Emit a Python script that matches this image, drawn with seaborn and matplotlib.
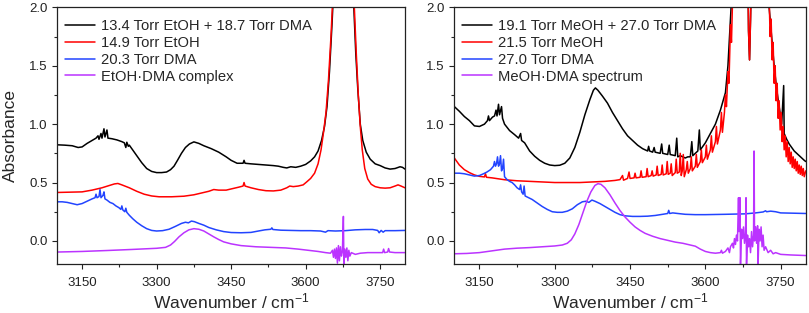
import numpy as np
import matplotlib
matplotlib.use("Agg")
import matplotlib.pyplot as plt
import seaborn as sns

# ---- left panel: EtOH / DMA ----
left_labels = ['13.4 Torr EtOH + 18.7 Torr DMA', '14.9 Torr EtOH', '20.3 Torr DMA', 'EtOH\u00b7DMA complex']

etoh_mix_wn = [3100, 3115, 3130, 3142, 3150, 3160, 3170, 3178, 3182, 3184, 3188, 3190, 3194, 3196, 3200, 3202,
               3210, 3220, 3230, 3235, 3238, 3240, 3243, 3245, 3250, 3260, 3270, 3280, 3290, 3300, 3310, 3320,
               3328, 3335, 3342, 3350, 3358, 3366, 3375, 3385, 3395, 3410, 3425, 3440, 3450, 3462, 3474, 3476,
               3478, 3490, 3505, 3520, 3535, 3545, 3555, 3562, 3570, 3580, 3590, 3600, 3610, 3618, 3625, 3632,
               3638, 3643, 3648, 3653, 3658, 3676, 3692, 3697, 3701, 3705, 3710, 3715, 3722, 3730, 3740, 3750,
               3760, 3770, 3780, 3790, 3795, 3800]
etoh_mix_abs = [.823, .82, .815, .80, .805, .835, .86, .88, .90, .87, .92, .88, .96, .89, .95, .88,
                .875, .865, .85, .84, .80, .845, .81, .82, .79, .73, .67, .62, .595, .585, .585, .59,
                .61, .64, .69, .75, .80, .83, .848, .835, .815, .79, .76, .72, .69, .665, .665, .69,
                .665, .66, .655, .65, .645, .64, .63, .625, .635, .63, .64, .655, .685, .72, .77, .86,
                .98, 1.15, 1.45, 1.85, 2.3, 3.0, 2.4, 2.0, 1.6, 1.3, 1.0, .86, .76, .70, .66, .645,
                .625, .615, .62, .635, .63, .615]

etoh_wn = [3100, 3130, 3150, 3170, 3190, 3205, 3215, 3222, 3230, 3245, 3260, 3275, 3290, 3305, 3330, 3355,
           3375, 3390, 3405, 3415, 3425, 3440, 3455, 3465, 3474, 3476, 3478, 3490, 3505, 3520, 3535, 3550,
           3562, 3568, 3575, 3585, 3595, 3602, 3610, 3618, 3625, 3631, 3636, 3641, 3646, 3651, 3656, 3676,
           3694, 3698, 3702, 3706, 3710, 3714, 3719, 3725, 3732, 3740, 3750, 3760, 3770, 3780, 3786, 3792, 3800]
etoh_abs = [.415, .418, .42, .435, .455, .475, .488, .492, .48, .455, .425, .40, .385, .378, .378, .383,
            .395, .41, .425, .44, .435, .435, .45, .46, .47, .50, .47, .455, .44, .43, .428, .435,
            .455, .47, .465, .47, .48, .505, .535, .58, .66, .78, .93, 1.1, 1.38, 1.75, 2.2, 3.0,
            2.3, 2.0, 1.6, 1.25, .98, .78, .62, .53, .485, .465, .455, .452, .455, .47, .48, .47, .455]

dma_l_wn = [3100, 3110, 3120, 3130, 3140, 3150, 3160, 3170, 3176, 3178, 3180, 3184, 3186, 3188, 3192, 3194,
            3196, 3200, 3206, 3212, 3218, 3224, 3228, 3230, 3232, 3236, 3238, 3240, 3245, 3252, 3260, 3270,
            3280, 3290, 3300, 3312, 3325, 3338, 3350, 3358, 3364, 3370, 3376, 3385, 3395, 3405, 3420, 3435,
            3450, 3470, 3490, 3505, 3518, 3530, 3532, 3534, 3550, 3570, 3590, 3610, 3630, 3640, 3645, 3660,
            3680, 3700, 3720, 3735, 3745, 3748, 3752, 3756, 3760, 3780, 3800]
dma_l_abs = [.335, .335, .33, .32, .31, .32, .34, .36, .37, .40, .37, .38, .44, .37, .39, .42,
             .36, .35, .33, .32, .30, .285, .27, .30, .265, .25, .28, .245, .22, .19, .16, .13,
             .105, .09, .085, .088, .10, .125, .15, .16, .155, .17, .165, .15, .135, .115, .095, .08,
             .072, .07, .073, .085, .095, .10, .112, .098, .092, .09, .088, .088, .085, .075, .088, .085,
             .088, .095, .098, .098, .09, .07, .09, .075, .088, .088, .09]

cx_l_wn = [3100, 3150, 3200, 3250, 3300, 3318, 3328, 3336, 3345, 3355, 3365, 3375, 3385, 3395, 3405, 3415,
           3425, 3435, 3450, 3470, 3500, 3530, 3560, 3585, 3605, 3625, 3640, 3650, 3654, 3656, 3658, 3660,
           3662, 3664, 3666, 3668, 3670, 3672, 3674, 3676, 3677, 3679, 3681, 3683, 3685, 3687, 3689, 3692,
           3700, 3710, 3725, 3740, 3755, 3757, 3759, 3765, 3767, 3769, 3780, 3800]
cx_l_abs = [-.095, -.09, -.082, -.073, -.063, -.055, -.035, -.005, .035, .07, .095, .105, .10, .085, .06, .035,
            .012, -.008, -.025, -.04, -.05, -.055, -.06, -.07, -.08, -.09, -.10, -.105, -.08, -.14, -.07, -.15,
            -.06, -.19, -.04, -.17, -.05, -.13, -.09, .21, -.2, -.07, -.14, -.06, -.17, -.08, -.13, -.10,
            -.115, -.105, -.10, -.10, -.10, -.07, -.10, -.095, -.065, -.095, -.10, -.10]

# ---- right panel: MeOH / DMA ----
right_labels = ['19.1 Torr MeOH + 27.0 Torr DMA', '21.5 Torr MeOH', '27.0 Torr DMA', 'MeOH\u00b7DMA spectrum']

meoh_mix_wn = [3100, 3110, 3120, 3130, 3140, 3150, 3160, 3166, 3168, 3170, 3176, 3180, 3183, 3185, 3188, 3190,
               3194, 3196, 3200, 3210, 3220, 3228, 3232, 3234, 3240, 3250, 3260, 3270, 3280, 3290, 3300, 3310,
               3320, 3330, 3340, 3350, 3360, 3370, 3377, 3381, 3386, 3395, 3405, 3415, 3425, 3435, 3445, 3455,
               3465, 3475, 3485, 3487, 3489, 3495, 3498, 3500, 3510, 3513, 3515, 3525, 3528, 3530, 3540, 3543,
               3545, 3550, 3555, 3560, 3565, 3570, 3573, 3575, 3580, 3585, 3588, 3590, 3600, 3610, 3620, 3630,
               3640, 3645, 3650, 3655, 3660, 3684, 3686, 3688, 3690, 3693, 3722, 3727, 3732, 3737, 3742, 3747,
               3752, 3756, 3757, 3762, 3767, 3772, 3777, 3782, 3787, 3792, 3797, 3800]
meoh_mix_abs = [1.15, 1.11, 1.065, 1.03, .985, .98, 1.0, 1.03, 1.07, 1.03, 1.06, 1.07, 1.12, 1.07, 1.17, 1.08,
                1.15, 1.05, 1.0, .945, .91, .88, .92, .86, .84, .77, .725, .69, .665, .65, .645, .648,
                .665, .71, .80, .93, 1.08, 1.21, 1.29, 1.31, 1.29, 1.24, 1.18, 1.10, 1.03, .96, .90, .86,
                .82, .79, .77, .81, .77, .76, .80, .76, .75, .83, .75, .74, .82, .74, .73, .88,
                .72, .73, .72, .71, .72, .72, .85, .73, .75, .77, .95, .78, .84, .92, 1.0, 1.12,
                1.27, 1.5, 1.9, 2.3, 2.6, 2.6, 1.8, 1.55, 1.9, 2.6, 2.6, 2.0, 1.75, 1.5, 1.3, 1.15,
                1.0, 1.33, .92, .87, .83, .80, .77, .75, .73, .71, .69, .68]

meoh_wn = [3100, 3105, 3110, 3120, 3130, 3140, 3150, 3160, 3162, 3164, 3175, 3190, 3200, 3225, 3250, 3275,
           3300, 3325, 3350, 3375, 3400, 3420, 3430, 3435, 3437, 3445, 3448, 3450, 3458, 3460, 3462, 3470,
           3472, 3474, 3482, 3484, 3486, 3492, 3494, 3496, 3502, 3504, 3506, 3512, 3514, 3516, 3522, 3524,
           3526, 3530, 3532, 3534, 3540, 3542, 3544, 3548, 3550, 3552, 3554, 3556, 3558, 3562, 3564, 3566,
           3570, 3572, 3574, 3580, 3582, 3584, 3590, 3592, 3594, 3600, 3602, 3604, 3610, 3612, 3614, 3620,
           3622, 3624, 3630, 3632, 3634, 3638, 3640, 3642, 3645, 3647, 3650, 3652, 3655, 3660, 3684, 3686,
           3688, 3690, 3693, 3722, 3725, 3727, 3729, 3731, 3733, 3735, 3737, 3739, 3741, 3743, 3745, 3747,
           3749, 3751, 3753, 3755, 3757, 3759, 3761, 3763, 3765, 3767, 3769, 3771, 3773, 3775, 3777, 3779,
           3781, 3783, 3785, 3787, 3789, 3791, 3793, 3795, 3797, 3800]
meoh_abs = [.71, .68, .65, .61, .585, .565, .553, .548, .575, .545, .54, .53, .524, .515, .51, .505,
            .50, .50, .50, .505, .51, .518, .525, .56, .52, .535, .59, .535, .54, .58, .54, .545,
            .60, .545, .55, .62, .55, .56, .60, .555, .565, .64, .56, .57, .65, .565, .575, .68,
            .57, .58, .66, .56, .585, .70, .58, .59, .75, .56, .60, .74, .55, .61, .68, .58,
            .62, .72, .60, .64, .74, .63, .68, .78, .67, .72, .82, .70, .78, .90, .76, .85,
            .98, .83, .95, 1.1, .93, 1.1, 1.25, 1.15, 1.45, 1.35, 1.85, 1.7, 2.2, 2.6, 2.6, 1.8,
            1.55, 1.9, 2.6, 2.6, 2.0, 2.1, 1.75, 1.9, 1.55, 1.7, 1.35, 1.5, 1.2, 1.35, 1.05, 1.2,
            .95, 1.1, .85, .98, .78, .90, .72, .85, .68, .80, .66, .76, .63, .72, .62, .70,
            .60, .68, .58, .65, .57, .64, .56, .62, .55, .60]

dma_r_wn = [3100, 3110, 3120, 3130, 3140, 3150, 3158, 3165, 3172, 3178, 3180, 3182, 3184, 3186, 3188, 3190,
            3192, 3194, 3196, 3198, 3200, 3205, 3210, 3215, 3220, 3225, 3230, 3232, 3234, 3237, 3239, 3241,
            3248, 3255, 3265, 3275, 3285, 3295, 3305, 3315, 3325, 3335, 3345, 3355, 3362, 3368, 3374, 3380,
            3390, 3400, 3410, 3420, 3430, 3440, 3455, 3470, 3485, 3500, 3515, 3525, 3527, 3529, 3535, 3545,
            3560, 3580, 3600, 3640, 3680, 3700, 3715, 3720, 3722, 3730, 3740, 3750, 3770, 3800]
dma_r_abs = [.58, .58, .575, .565, .555, .56, .575, .59, .61, .64, .68, .64, .66, .72, .64, .66,
             .73, .60, .62, .70, .55, .525, .51, .50, .48, .455, .44, .48, .42, .40, .47, .385,
             .37, .355, .325, .295, .27, .25, .245, .245, .255, .275, .31, .335, .34, .33, .35, .34,
             .32, .295, .27, .245, .225, .215, .21, .21, .212, .218, .228, .235, .262, .235, .24, .235,
             .228, .225, .225, .228, .232, .24, .248, .258, .25, .255, .25, .24, .238, .235]

cx_r_wn = [3100, 3125, 3150, 3175, 3200, 3225, 3250, 3275, 3300, 3315, 3325, 3333, 3340, 3348, 3356, 3364,
           3372, 3380, 3386, 3392, 3400, 3410, 3420, 3430, 3440, 3450, 3460, 3470, 3480, 3495, 3510, 3525,
           3540, 3555, 3570, 3580, 3590, 3600, 3610, 3620, 3630, 3632, 3634, 3640, 3645, 3648, 3650, 3654,
           3656, 3658, 3660, 3662, 3664, 3666, 3667, 3669, 3670, 3672, 3674, 3676, 3678, 3680, 3681, 3682,
           3684, 3686, 3688, 3690, 3692, 3694, 3696, 3697, 3698, 3700, 3702, 3704, 3705, 3707, 3709, 3711,
           3713, 3715, 3717, 3720, 3725, 3730, 3735, 3740, 3750, 3770, 3800]
cx_r_abs = [-.11, -.107, -.10, -.085, -.07, -.062, -.057, -.05, -.043, -.035, -.02, .01, .06, .14, .24, .34,
            .42, .475, .49, .485, .455, .395, .325, .26, .205, .16, .12, .09, .065, .04, .02, .005,
            -.01, -.02, -.035, -.045, -.07, -.09, -.10, -.105, -.10, -.08, -.105, -.09, -.06, -.10, -.05, -.02,
            -.06, .02, -.03, .05, .0, .37, .08, .37, -.2, .10, .02, .12, -.02, .06, .37, -.2,
            .05, -.05, .02, -.10, .08, -.05, .05, .77, .0, .12, -.02, .13, -.2, .10, .0, .12,
            -.05, .05, -.08, -.05, -.10, -.08, -.11, -.10, -.115, -.12, -.125]

colors = ['black', '#ff0000', '#2244ff', '#bb33ff']

sns.set_theme(style="ticks")
plt.rcParams['font.family'] = ['Liberation Sans', 'DejaVu Sans']
plt.rcParams['mathtext.fontset'] = 'custom'
plt.rcParams['mathtext.rm'] = 'Liberation Sans'
plt.rcParams['mathtext.default'] = 'regular'
plt.rcParams['axes.linewidth'] = 0.9

fig = plt.figure(figsize=(8.09, 3.13), dpi=100)
ax1 = fig.add_axes([0.0708, 0.1556, 0.4298, 0.821])
ax2 = fig.add_axes([0.5616, 0.1556, 0.4344, 0.821])

panels = [
    (ax1, [(etoh_mix_wn, etoh_mix_abs), (etoh_wn, etoh_abs), (dma_l_wn, dma_l_abs), (cx_l_wn, cx_l_abs)], left_labels),
    (ax2, [(meoh_mix_wn, meoh_mix_abs), (meoh_wn, meoh_abs), (dma_r_wn, dma_r_abs), (cx_r_wn, cx_r_abs)], right_labels),
]

for ax, series, labels in panels:
    for (wn, ab), lab, col in zip(series, labels, colors):
        sns.lineplot(x=wn, y=ab, ax=ax, color=col, lw=1.1, label=lab,
                     estimator=None, sort=False)
    ax.set_xlim(3100, 3800)
    ax.set_ylim(-0.2, 2.0)
    ax.set_xticks([3150, 3300, 3450, 3600, 3750])
    ax.set_xticks([3225, 3375, 3525, 3675], minor=True)
    ax.set_yticks([0.0, 0.5, 1.0, 1.5, 2.0])
    ax.set_yticks([-0.25 + 0.5 * i for i in range(1, 5)], minor=True)
    ax.set_yticklabels(['0.0', '0.5', '1.0', '1.5', '2.0'])
    ax.tick_params(axis='both', which='major', direction='out', length=3.5, width=0.8,
                   labelsize=9.5, colors='#222222')
    ax.tick_params(axis='x', which='major', pad=5.5)
    ax.tick_params(axis='both', which='minor', direction='out', length=2.5, width=0.8)
    for sp in ax.spines.values():
        sp.set_visible(True)
        sp.set_color('#222222')
    ax.set_xlabel('Wavenumber / cm$^{-1}$', fontsize=12.5)
    ax.xaxis.set_label_coords(0.5, -0.105)
    ax.legend(loc='upper left', bbox_to_anchor=(0.0, 0.984), frameon=False, fontsize=10.6,
              handlelength=2.05, handletextpad=0.4, labelspacing=0.2, borderaxespad=0.2,
              borderpad=0.3)

ax1.set_ylabel('Absorbance', fontsize=12.5, labelpad=8)
ax2.set_ylabel('')

fig.savefig('out.png', dpi=100)
